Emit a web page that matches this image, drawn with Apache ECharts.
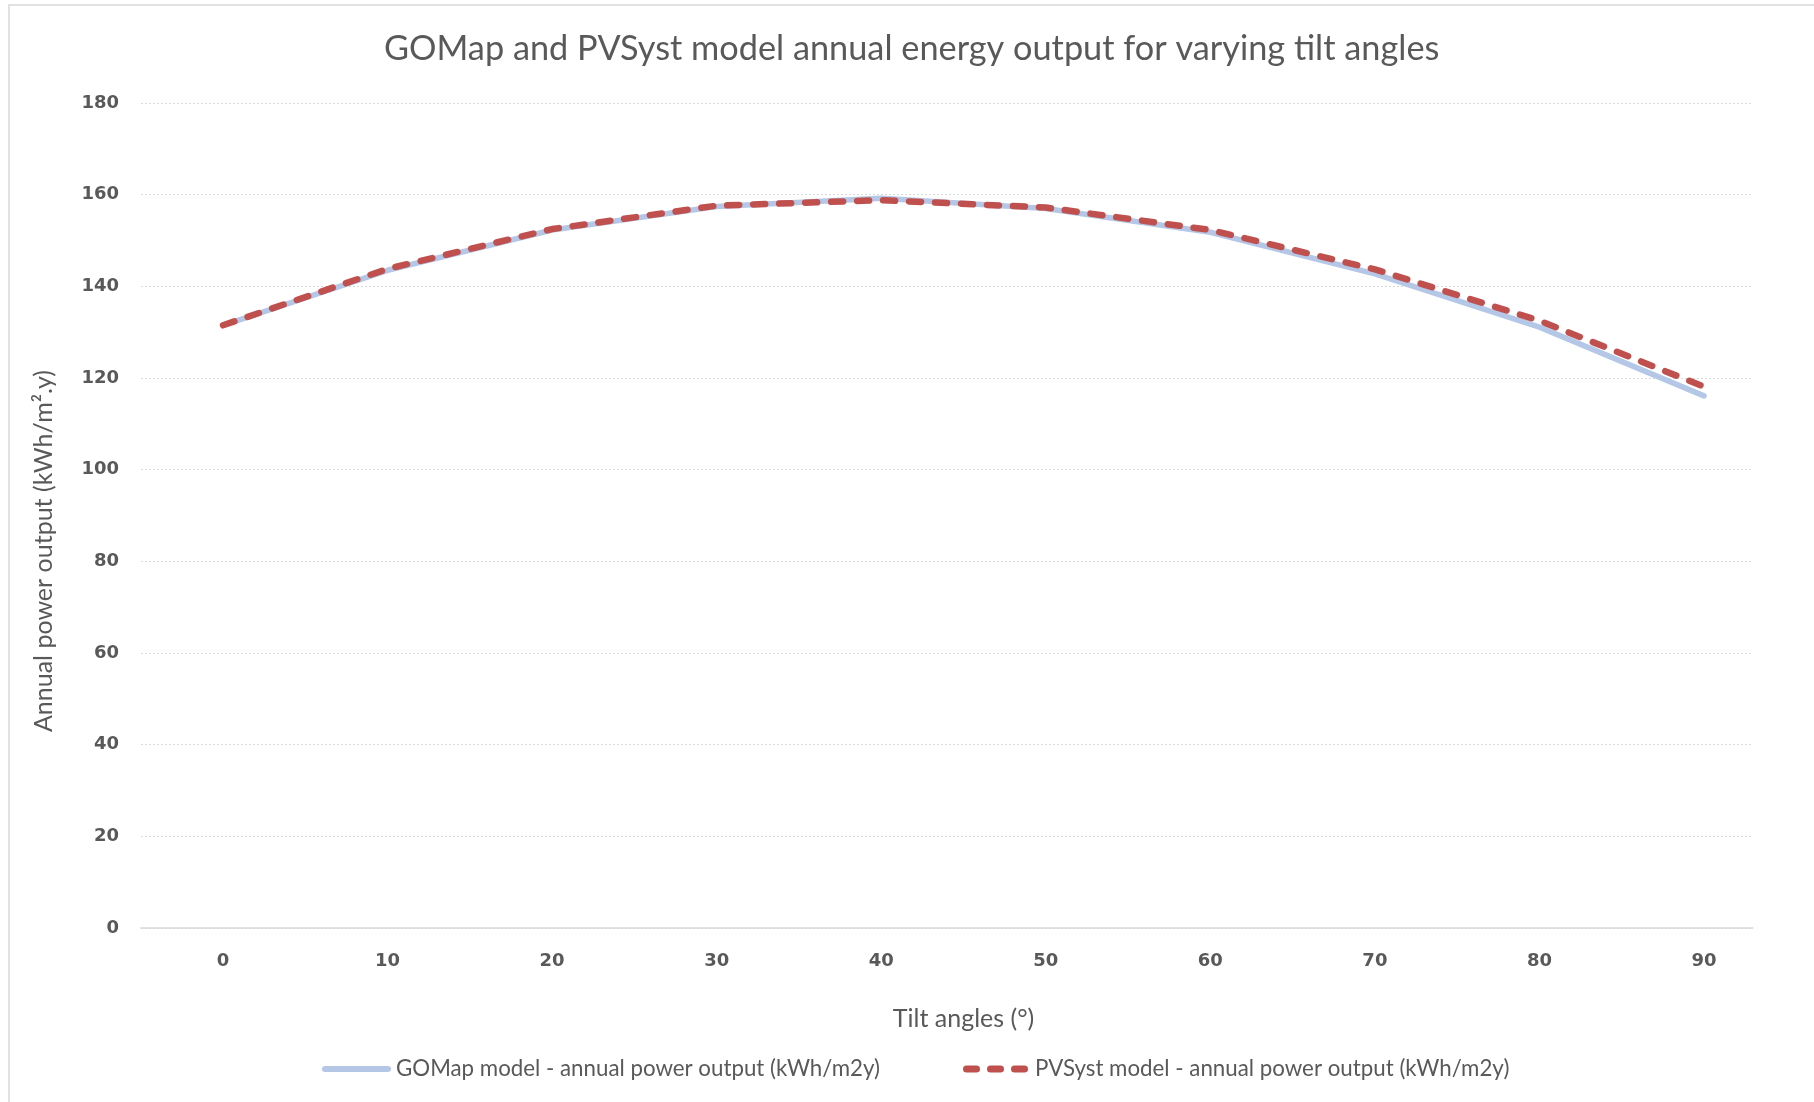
<!DOCTYPE html>
<html>
<head>
<meta charset="utf-8">
<style>html,body{margin:0;padding:0;background:#fff;}#c{width:1814px;height:1102px;}</style>
<script src="https://cdn.jsdelivr.net/npm/echarts@6/dist/echarts.min.js"></script>
</head>
<body>
<div id="c"></div>
<script>
const tiltAngles = ['0', '10', '20', '30', '40', '50', '60', '70', '80', '90'];
const gomapOutput = [131.5, 143.5, 152.3, 157.4, 159.2, 157.0, 151.8, 142.7, 131.1, 116.1];
const pvsystOutput = [131.5, 143.8, 152.5, 157.6, 158.8, 157.2, 152.3, 143.7, 132.5, 118.1];
const titleText = 'GOMap and PVSyst model annual energy output for varying tilt angles';
const yAxisName = 'Annual power output (kWh/m\u00B2.y)';
const xAxisName = 'Tilt angles (\u00B0)';
const seriesNames = ['GOMap model - annual power output (kWh/m2y)', 'PVSyst model - annual power output (kWh/m2y)'];

const textFont = 'Lato';
const labelStyle = { fontFamily: 'DejaVu Sans', fontWeight: 'bold', fontSize: 18, color: '#595959' };
// legend icons: a solid rounded bar and three rounded dashes
const solidIcon = 'path://M3,0 H66 A3,3 0 0 1 66,6 H3 A3,3 0 0 1 3,0 Z';
const dashIcon = 'path://M3.5,0 H13.5 A3.5,3.5 0 0 1 13.5,7 H3.5 A3.5,3.5 0 0 1 3.5,0 Z ' +
  'M27.5,0 H37.5 A3.5,3.5 0 0 1 37.5,7 H27.5 A3.5,3.5 0 0 1 27.5,0 Z ' +
  'M51.5,0 H61.5 A3.5,3.5 0 0 1 61.5,7 H51.5 A3.5,3.5 0 0 1 51.5,0 Z';

const chart = echarts.init(document.getElementById('c'));
chart.setOption({
  backgroundColor: '#ffffff',
  animation: false,
  title: {
    text: titleText,
    left: 379,
    top: 27,
    textStyle: { fontFamily: textFont, fontSize: 34.3, fontWeight: 'normal', color: '#595959' }
  },
  legend: {
    left: 317,
    top: 1053,
    itemWidth: 69,
    itemHeight: 7,
    itemGap: 83,
    textStyle: { fontFamily: textFont, fontSize: 22.3, color: '#595959' },
    data: [
      { name: seriesNames[0], icon: solidIcon, itemStyle: { color: '#B4C7E7' } },
      { name: seriesNames[1], icon: dashIcon, itemStyle: { color: '#C0504D' } }
    ]
  },
  grid: [
    { left: 141, right: 61, top: 103, bottom: 174 },
    { left: 223, right: 110, top: 103, bottom: 174 }
  ],
  xAxis: [
    {
      type: 'value',
      gridIndex: 0,
      min: 0,
      max: 1,
      axisLine: { show: true, onZero: false, lineStyle: { color: '#D9D9D9', width: 1.5 } },
      axisTick: { show: false },
      axisLabel: { show: false },
      splitLine: { show: false }
    },
    {
      type: 'category',
      gridIndex: 1,
      data: tiltAngles,
      boundaryGap: false,
      name: xAxisName,
      nameLocation: 'middle',
      nameGap: 78,
      nameTextStyle: { fontFamily: textFont, fontSize: 25, color: '#595959' },
      axisLine: { show: false },
      axisTick: { show: false },
      axisLabel: Object.assign({ margin: 24 }, labelStyle),
      splitLine: { show: false }
    }
  ],
  yAxis: [
    {
      type: 'value',
      gridIndex: 0,
      min: 0,
      max: 180,
      interval: 20,
      axisLine: { show: false },
      axisTick: { show: false },
      axisLabel: Object.assign({ margin: 22 }, labelStyle),
      splitLine: { lineStyle: { color: '#D9D9D9', type: [2, 2], width: 1 } }
    },
    {
      type: 'value',
      gridIndex: 1,
      min: 0,
      max: 180,
      interval: 20,
      show: false,
      splitLine: { show: false }
    }
  ],
  graphic: [
    {
      type: 'rect',
      shape: { x: 9, y: 5, width: 1830, height: 1120 },
      style: { fill: 'none', stroke: '#D9D9D9', lineWidth: 1.5 },
      silent: true
    },
    {
      type: 'text',
      x: 44,
      y: 551,
      rotation: Math.PI / 2,
      style: {
        text: yAxisName,
        fontFamily: textFont,
        fontSize: 25,
        fill: '#595959',
        align: 'center',
        verticalAlign: 'middle'
      }
    }
  ],
  series: [
    {
      name: seriesNames[0],
      type: 'line',
      xAxisIndex: 1,
      yAxisIndex: 1,
      data: gomapOutput,
      symbol: 'none',
      color: '#B4C7E7',
      lineStyle: { color: '#B4C7E7', width: 5.5, cap: 'round', join: 'round' }
    },
    {
      name: seriesNames[1],
      type: 'line',
      xAxisIndex: 1,
      yAxisIndex: 1,
      data: pvsystOutput,
      symbol: 'none',
      color: '#C0504D',
      lineStyle: { color: '#C0504D', width: 6.5, type: [12, 14], cap: 'round', join: 'round' }
    }
  ]
});
</script>
</body>
</html>
